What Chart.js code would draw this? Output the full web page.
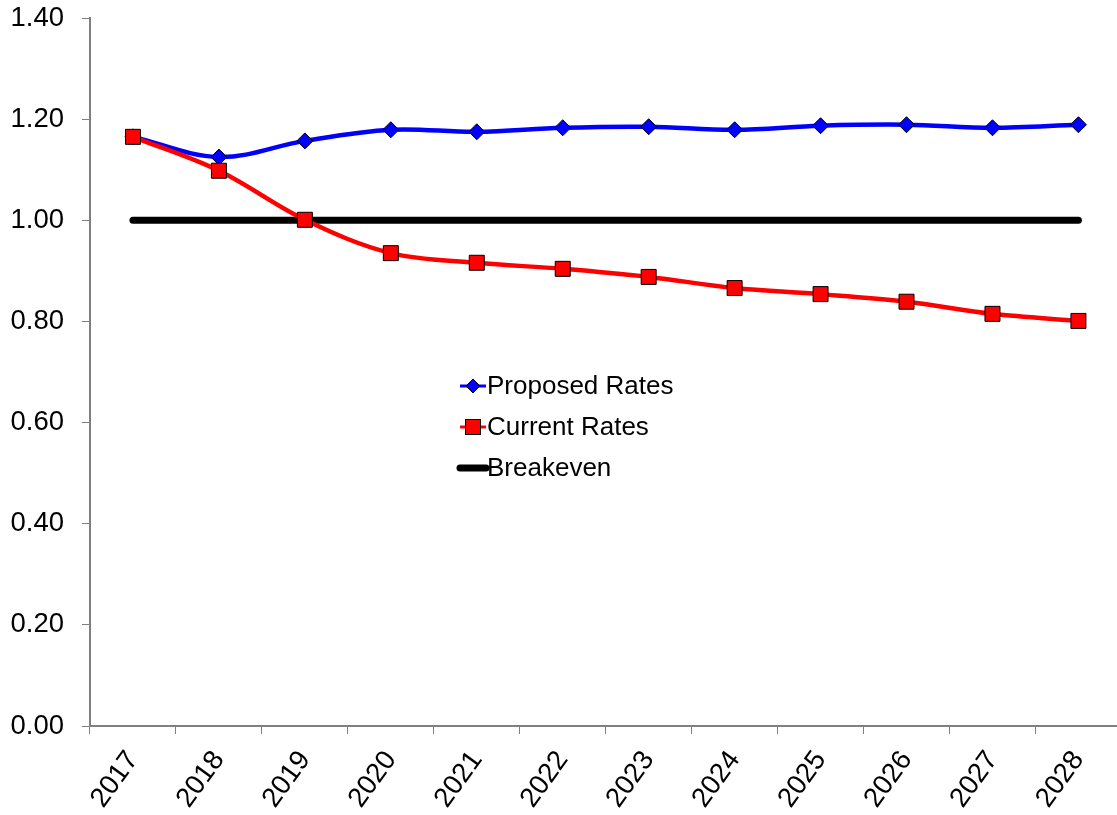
<!DOCTYPE html>
<html>
<head>
<meta charset="utf-8">
<script src="https://cdn.jsdelivr.net/npm/chart.js@4.4.1/dist/chart.umd.min.js"></script>
<style>
  html, body { margin: 0; padding: 0; background: #fff; overflow: hidden; }
  canvas { display: block; }
</style>
</head>
<body>
<canvas id="chart" width="1133" height="815"></canvas>
<script>
// years on the x axis
const years = ['2017', '2018', '2019', '2020', '2021', '2022', '2023', '2024', '2025', '2026', '2027', '2028'];
// ratio values
const proposedRates = [1.165, 1.125, 1.157, 1.179, 1.175, 1.183, 1.185, 1.179, 1.187, 1.189, 1.183, 1.189];
const currentRates  = [1.165, 1.098, 1.001, 0.935, 0.916, 0.904, 0.888, 0.866, 0.854, 0.839, 0.815, 0.801];
const breakeven     = [1.00, 1.00, 1.00, 1.00, 1.00, 1.00, 1.00, 1.00, 1.00, 1.00, 1.00, 1.00];
// y axis range
const yMin = 0, yMax = 1.4, yStep = 0.2;

const FONT = "'Liberation Sans', Arial, sans-serif";
const AXIS_GREY = '#808080';

// legend drawn inside the plot, like the original
const insideLegend = {
    id: 'insideLegend',
    afterDraw(chart) {
        const ctx = chart.ctx;
        const x0 = 460, y0 = 386, gap = 41, len = 26;
        ctx.save();
        chart.data.datasets.forEach((ds, i) => {
            const y = y0 + i * gap;
            ctx.strokeStyle = ds.borderColor;
            ctx.lineWidth = ds.legendLineWidth;
            ctx.lineCap = ds.pointRadius ? 'butt' : 'round';
            ctx.beginPath();
            ctx.moveTo(x0, y);
            ctx.lineTo(x0 + len, y);
            ctx.stroke();
            const cx = x0 + len / 2;
            if (ds.pointStyle === 'rectRot') {
                const r = 7;
                ctx.beginPath();
                ctx.moveTo(cx, y - r); ctx.lineTo(cx + r, y); ctx.lineTo(cx, y + r); ctx.lineTo(cx - r, y);
                ctx.closePath();
                ctx.fillStyle = ds.pointBackgroundColor; ctx.fill();
                ctx.lineWidth = 1; ctx.strokeStyle = ds.pointBorderColor; ctx.stroke();
            } else if (ds.pointStyle === 'rect') {
                const h = 7.5;
                ctx.fillStyle = ds.pointBackgroundColor;
                ctx.fillRect(cx - h, y - h, 2 * h, 2 * h);
                ctx.lineWidth = 1; ctx.strokeStyle = ds.pointBorderColor;
                ctx.strokeRect(cx - h, y - h, 2 * h, 2 * h);
            }
            ctx.fillStyle = '#000';
            ctx.font = '26px ' + FONT;
            ctx.textBaseline = 'middle';
            ctx.textAlign = 'left';
            ctx.fillText(ds.label, x0 + len + 1, y + 1);
        });
        ctx.restore();
    }
};

const ctx = document.getElementById('chart').getContext('2d');
new Chart(ctx, {
    type: 'line',
    data: {
        labels: years,
        datasets: [
            {
                label: 'Proposed Rates',
                data: proposedRates,
                borderColor: '#0000FF',
                borderWidth: 4.5,
                legendLineWidth: 3,
                tension: 0.35,
                pointStyle: 'rectRot',
                pointRadius: 8,
                pointBackgroundColor: '#0000FF',
                pointBorderColor: '#000',
                pointBorderWidth: 1,
                order: 2
            },
            {
                label: 'Current Rates',
                data: currentRates,
                borderColor: '#FF0000',
                borderWidth: 4.5,
                legendLineWidth: 3,
                tension: 0.35,
                pointStyle: 'rect',
                pointRadius: 10.6,
                pointBackgroundColor: '#FF0000',
                pointBorderColor: '#000',
                pointBorderWidth: 1,
                order: 1
            },
            {
                label: 'Breakeven',
                data: breakeven,
                borderColor: '#000000',
                borderWidth: 7,
                legendLineWidth: 7,
                borderCapStyle: 'round',
                pointRadius: 0,
                order: 3
            }
        ]
    },
    options: {
        responsive: false,
        animation: false,
        layout: { padding: { top: 18, right: 4, left: 0, bottom: 0 } },
        plugins: {
            legend: { display: false },
            tooltip: { enabled: false }
        },
        scales: {
            x: {
                offset: true,
                grid: {
                    offset: true,
                    drawOnChartArea: false,
                    color: AXIS_GREY,
                    tickLength: 8
                },
                border: { color: AXIS_GREY, width: 2 },
                ticks: {
                    color: '#000',
                    font: { family: FONT, size: 27.5 },
                    minRotation: 54,
                    maxRotation: 54,
                    padding: 11
                },
                afterFit(scale) {
                    scale.height = 89;
                    scale.paddingLeft = 0;
                    scale.paddingRight = 0;
                }
            },
            y: {
                min: yMin,
                max: yMax,
                grid: {
                    drawOnChartArea: false,
                    color: AXIS_GREY,
                    tickLength: 8
                },
                border: { color: AXIS_GREY, width: 2 },
                ticks: {
                    stepSize: yStep,
                    color: '#000',
                    font: { family: FONT, size: 27.5 },
                    padding: 18,
                    callback: v => v.toFixed(2)
                },
                afterFit(scale) {
                    scale.width = 90;
                    scale.paddingTop = 0;
                    scale.paddingBottom = 0;
                }
            }
        }
    },
    plugins: [insideLegend]
});
</script>
</body>
</html>
